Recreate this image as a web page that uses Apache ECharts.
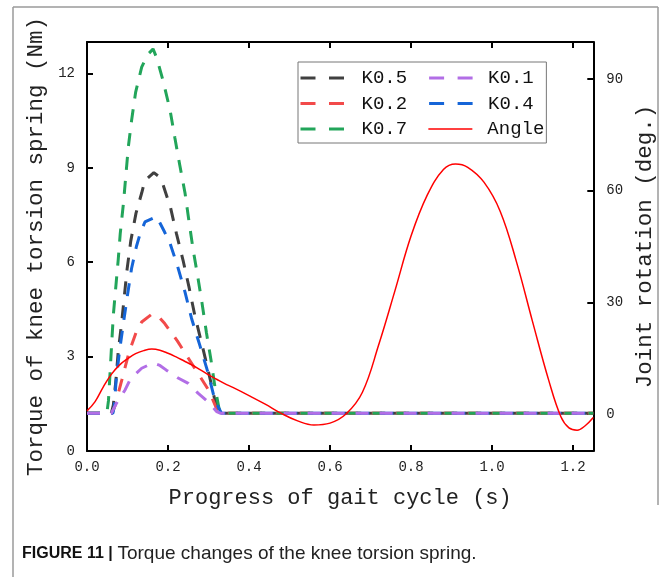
<!DOCTYPE html>
<html><head><meta charset="utf-8">
<script src="https://cdn.jsdelivr.net/npm/echarts@6/dist/echarts.min.js"></script>
<style>html,body{margin:0;padding:0;background:#fff;}#c{width:665px;height:577px;}</style>
</head><body><div id="c"></div>
<script>
// ---- data ----
const xTicks = [0, 0.2, 0.4, 0.6, 0.8, 1.0, 1.2];
const torqueTicks = [0, 3, 6, 9, 12];
const angleTicks = [0, 30, 60, 90];
const seriesNames = ['K0.5', 'K0.2', 'K0.7', 'K0.4', 'K0.1', 'Angle'];
const legendOrder = ['K0.5', 'K0.1', 'K0.2', 'K0.4', 'K0.7', 'Angle'];

const k05 = [[0,1.2],[0.06,1.2],[0.065,1.46],[0.0715,2.26],[0.077,3.15],[0.0855,4.07],[0.092,4.9],[0.099,5.78],[0.108,6.67],[0.121,7.56],[0.135,8.2],[0.143,8.6],[0.165,8.85],[0.175,8.75],[0.188,8.45],[0.206,7.75],[0.221,6.9],[0.237,6.07],[0.252,5.2],[0.266,4.32],[0.283,3.43],[0.299,2.57],[0.316,1.6],[0.328,1.2],[1.25,1.2]];
const k02 = [[0,1.2],[0.062,1.2],[0.069,1.43],[0.086,2.26],[0.104,3.15],[0.122,3.8],[0.135,4.1],[0.16,4.35],[0.175,4.3],[0.192,4.05],[0.223,3.5],[0.261,2.73],[0.3,1.94],[0.32,1.35],[0.33,1.2],[1.25,1.2]];
const k07 = [[0,1.2],[0.049,1.2],[0.053,1.6],[0.057,2.5],[0.061,3.43],[0.065,4.32],[0.071,5.2],[0.077,6.07],[0.082,6.9],[0.09,7.88],[0.096,8.77],[0.102,9.66],[0.11,10.5],[0.12,11.4],[0.135,12.2],[0.15,12.6],[0.163,12.78],[0.172,12.5],[0.188,11.76],[0.205,10.84],[0.217,9.95],[0.229,9.09],[0.242,8.2],[0.252,7.28],[0.262,6.4],[0.274,5.5],[0.284,4.7],[0.295,3.75],[0.306,2.9],[0.316,2.03],[0.326,1.35],[0.332,1.2],[1.25,1.2]];
const k04 = [[0,1.2],[0.064,1.2],[0.067,1.4],[0.072,2.25],[0.08,3.15],[0.09,4.07],[0.1,4.96],[0.11,5.8],[0.122,6.5],[0.131,6.9],[0.143,7.28],[0.172,7.45],[0.19,7.0],[0.205,6.6],[0.223,5.9],[0.242,5.05],[0.258,4.22],[0.279,3.34],[0.299,2.48],[0.316,1.6],[0.332,1.2],[1.25,1.2]];
const k01 = [[0,1.2],[0.06,1.2],[0.073,1.52],[0.094,1.94],[0.106,2.26],[0.12,2.45],[0.135,2.63],[0.163,2.8],[0.18,2.72],[0.196,2.57],[0.225,2.32],[0.25,2.15],[0.274,1.84],[0.303,1.52],[0.32,1.25],[0.33,1.2],[1.25,1.2]];
const angle = [[0,0.8],[0.02,3.3],[0.04,7.2],[0.06,10.6],[0.08,13.1],[0.1,14.8],[0.12,16.2],[0.14,17.0],[0.16,17.4],[0.18,17.1],[0.2,16.3],[0.22,15.3],[0.24,14.2],[0.26,13.1],[0.28,11.8],[0.3,10.5],[0.32,9.3],[0.34,8.1],[0.36,7.1],[0.4,4.9],[0.44,2.6],[0.48,0.1],[0.52,-1.9],[0.56,-3.0],[0.6,-2.5],[0.64,0],[0.68,5.8],[0.72,18.5],[0.76,33.0],[0.8,47.8],[0.84,58.8],[0.88,65.7],[0.91,67.2],[0.94,66.3],[0.98,62.3],[1.02,54.5],[1.06,41.0],[1.1,24.8],[1.14,9.0],[1.17,-0.8],[1.19,-3.8],[1.21,-4.4],[1.23,-3.2],[1.25,-1.0]];

const colors = {'K0.5':'#404040','K0.2':'#f24a4a','K0.7':'#22a55a','K0.4':'#1565d8','K0.1':'#b26ee6','Angle':'#ff0000'};
const dataMap = {'K0.5':k05,'K0.2':k02,'K0.7':k07,'K0.4':k04,'K0.1':k01,'Angle':angle};

// ---- chart ----
const chart = echarts.init(document.getElementById('c'), null, {renderer:'canvas'});
const MONO = 'Liberation Mono';
const axisLine = {show:true, onZero:false, lineStyle:{color:'#000', width:2}};
const tickStyle = {lineStyle:{color:'#000', width:2}};

function xAxisCfg(pos, labels){
  return {
    type:'value', position:pos, min:0, max:1.25,
    axisLine, splitLine:{show:false},
    axisTick:{show:true, inside:true, length:6, customValues:xTicks, ...tickStyle},
    axisLabel:{show:labels, customValues:xTicks, margin:9, fontFamily:MONO, fontSize:14, color:'#222',
      formatter:v=>v.toFixed(1)},
    name: labels ? 'Progress of gait cycle (s)' : '',
    nameLocation:'middle', nameGap:36,
    nameTextStyle:{fontFamily:MONO, fontSize:22, color:'#222'}
  };
}

const option = {
  animation:false,
  backgroundColor:'#fff',
  grid:{left:87, right:71, top:42, bottom:126, containLabel:false},
  xAxis:[xAxisCfg('bottom', true), xAxisCfg('top', false)],
  yAxis:[
    {type:'value', position:'left', min:0, max:13, axisLine, splitLine:{show:false},
     axisTick:{show:true, inside:true, length:6, customValues:torqueTicks, ...tickStyle},
     axisLabel:{customValues:torqueTicks, margin:12, fontFamily:MONO, fontSize:14, color:'#222'},
     name:'Torque of knee torsion spring (Nm)', nameLocation:'middle', nameGap:33,
     nameTextStyle:{fontFamily:MONO, fontSize:22.5, color:'#222'}},
    {type:'value', position:'right', min:-10, max:100, axisLine, splitLine:{show:false},
     axisTick:{show:true, inside:true, length:6, customValues:angleTicks, ...tickStyle},
     axisLabel:{customValues:angleTicks, margin:13, fontFamily:MONO, fontSize:14, color:'#222'},
     name:'Joint rotation (deg.)', nameLocation:'middle', nameGap:26,
     nameTextStyle:{fontFamily:MONO, fontSize:22.5, color:'#222'}}
  ],
  legend:{
    left:298, top:62, width:250, orient:'horizontal',
    padding:[6,2,4,1], itemGap:5.5, itemWidth:44, itemHeight:20,
    borderColor:'#777', borderWidth:1, backgroundColor:'#fff',
    textStyle:{fontFamily:MONO, fontSize:19, color:'#111', lineHeight:20},
    data: legendOrder.map((n,i)=>({
      name:n,
      textStyle:{padding: i%2===0 ? [0,15,0,12] : [0,0,0,10]},
      lineStyle: n==='Angle' ? {type:'solid', width:1.5} : {type:[15,13.5], width:3},
      itemStyle:{opacity:0}
    }))
  },
  series: seriesNames.map(n=>({
    name:n, type:'line', data:dataMap[n],
    xAxisIndex:0, yAxisIndex: n==='Angle' ? 1 : 0,
    symbol:'none', showSymbol:false,
    smooth: n==='Angle' ? 0.4 : false,
    color: colors[n],
    lineStyle: n==='Angle' ? {color:colors[n], width:1.5} : {color:colors[n], width:3, type:[13,11]},
    z: n==='Angle' ? 5 : 2
  })),
  graphic:[
    {type:'line', shape:{x1:13, y1:7, x2:658, y2:7}, style:{stroke:'#9a9a9a', lineWidth:1.5}},
    {type:'line', shape:{x1:13, y1:7, x2:13, y2:577}, style:{stroke:'#9a9a9a', lineWidth:1.5}},
    {type:'line', shape:{x1:658, y1:7, x2:658, y2:505}, style:{stroke:'#9a9a9a', lineWidth:1.5}},
    {type:'text', left:22, top:544, style:{
      text:'{b|FIGURE 11 |} {r|Torque changes of the knee torsion spring.}',
      font:'17px "Liberation Sans"', fill:'#222',
      rich:{b:{fontWeight:'bold', fontFamily:'Liberation Sans', fontSize:16, fill:'#111'},
            r:{fontFamily:'Liberation Sans', fontSize:19, fill:'#222'}}
    }}
  ]
};
chart.setOption(option);
</script>
</body></html>
